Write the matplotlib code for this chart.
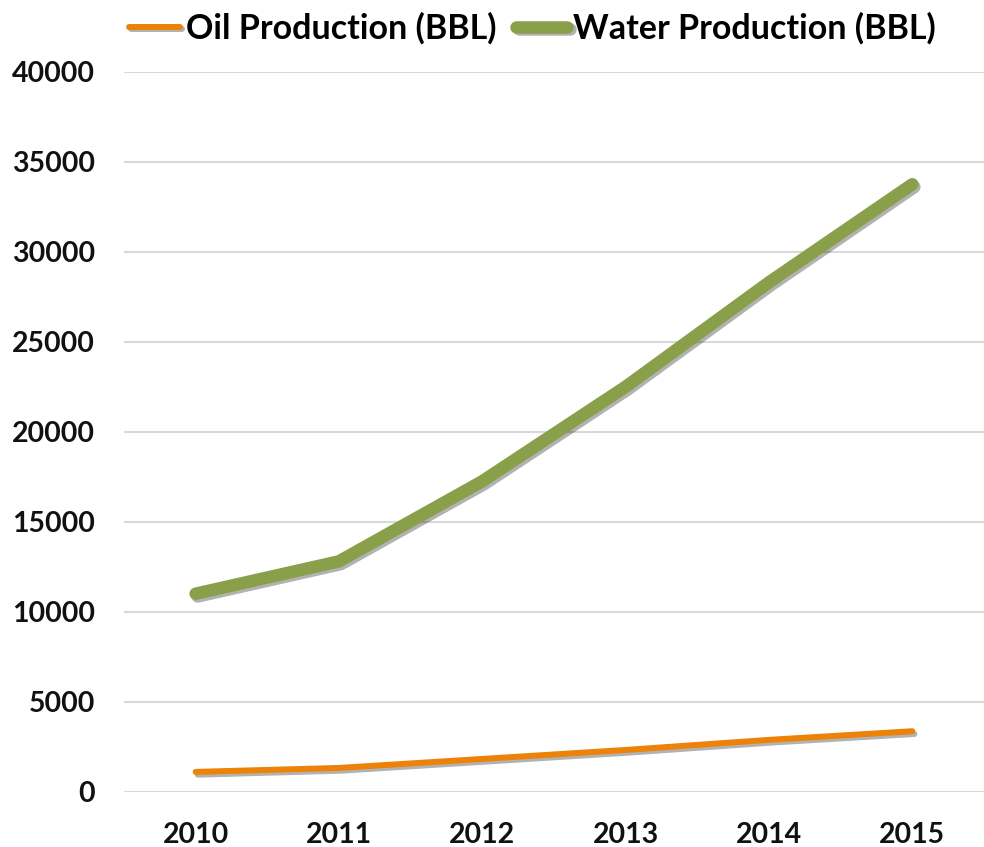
import matplotlib.pyplot as plt
import matplotlib.patheffects as pe

years = ['2010', '2011', '2012', '2013', '2014', '2015']
oil = [1100, 1320, 1820, 2320, 2880, 3360]
water = [11000, 12800, 17250, 22500, 28300, 33750]

plt.rcParams['font.family'] = ['Lato', 'DejaVu Sans']
plt.rcParams['font.weight'] = 'bold'

fig = plt.figure(figsize=(9.84, 8.47), dpi=100)
ax = fig.add_axes([0.126, 0.0653, 0.874, 0.85])

# soft drop shadow under the lines
shadow = [pe.SimpleLineShadow(offset=(1.5, -2), shadow_color='black', alpha=0.3), pe.Normal()]
x = range(len(years))
ax.plot(x, oil, color='#EC8208', lw=4.3, solid_capstyle='round', solid_joinstyle='round',
        label='Oil Production (BBL)', path_effects=shadow, zorder=3)
ax.plot(x, water, color='#8A9F4A', lw=9, solid_capstyle='round', solid_joinstyle='round',
        label='Water Production (BBL)', path_effects=shadow, zorder=3)

ax.set_xlim(-0.5, 5.5)
ax.set_ylim(0, 40000)
ax.set_yticks(range(0, 40001, 5000))
ax.set_xticks(list(x))
ax.set_xticklabels(years)
ax.grid(axis='y', color='#D9D9D9', lw=1.5)
ax.set_axisbelow(True)
for s in ax.spines.values():
    s.set_visible(False)
ax.tick_params(length=0, labelsize=20.5, colors='#111111')
ax.tick_params(axis='y', pad=21)
ax.tick_params(axis='x', pad=22)

fig.legend(loc='upper center', bbox_to_anchor=(0.541, 1.022), ncol=2, frameon=False,
           fontsize=24.5, handlelength=1.5, handletextpad=0.15, columnspacing=0.6)

fig.savefig('out.png', dpi=100)
